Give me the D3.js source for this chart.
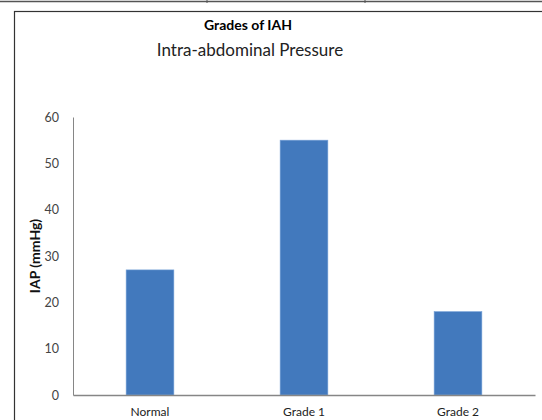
<!DOCTYPE html>
<html>
<head>
<meta charset="utf-8">
<script src="https://cdn.jsdelivr.net/npm/d3@7"></script>
<style>
  body { margin: 0; background: #fff; }
  text { font-family: Lato, "Open Sans", sans-serif; }
</style>
</head>
<body>
<div id="container"></div>
<script>
var categories = ["Normal", "Grade 1", "Grade 2"];
var values = [27, 55, 18];
var yTicks = [0, 10, 20, 30, 40, 50, 60];

var width = 542, height = 420;

var svg = d3.select("#container").append("svg")
    .attr("width", width)
    .attr("height", height);

// bits of the surrounding document table
svg.append("line").attr("x1", 0).attr("x2", width).attr("y1", 1.5).attr("y2", 1.5)
    .attr("stroke", "#555").attr("stroke-width", 1.5);
[207, 365].forEach(function(x) {
  svg.append("line").attr("x1", x).attr("x2", x).attr("y1", 0).attr("y2", 3)
      .attr("stroke", "#555");
});

// chart frame
svg.append("rect")
    .attr("x", 14.5).attr("y", 11.5)
    .attr("width", 600).attr("height", 500)
    .attr("fill", "none").attr("stroke", "#333").attr("stroke-width", 1.2);

var margin = { left: 73, right: 535, top: 117, bottom: 395 };

var x = d3.scaleBand()
    .domain(categories)
    .range([margin.left, margin.right])
    .paddingInner(0.69)
    .paddingOuter(0.345);

var y = d3.scaleLinear()
    .domain([0, 60])
    .range([margin.bottom, margin.top]);

svg.append("text")
    .attr("x", 248).attr("y", 30)
    .attr("text-anchor", "middle")
    .attr("font-size", 14).attr("font-weight", "bold")
    .attr("fill", "#000")
    .text("Grades of IAH");

svg.append("text")
    .attr("x", 250).attr("y", 56)
    .attr("text-anchor", "middle")
    .attr("font-size", 17)
    .attr("fill", "#222")
    .text("Intra-abdominal Pressure");

// bars
svg.append("g").selectAll("rect")
    .data(values)
    .enter().append("rect")
      .attr("x", function(d, i) { return x(categories[i]); })
      .attr("y", function(d) { return y(d); })
      .attr("width", x.bandwidth())
      .attr("height", function(d) { return y(0) - y(d); })
      .attr("fill", "#4279bd")
      .attr("stroke", "#7aa3d8")
      .attr("stroke-width", 0.6);

// y axis
var yAxis = svg.append("g")
    .attr("transform", "translate(" + margin.left + ",0)")
    .call(d3.axisLeft(y).tickValues(yTicks).tickSize(0).tickPadding(14));
yAxis.select(".domain").attr("stroke", "#868686");
yAxis.selectAll("text").attr("font-size", 12.5).attr("fill", "#444")
    .attr("font-family", "Lato, sans-serif");

// x axis
var xAxis = svg.append("g")
    .attr("transform", "translate(0," + margin.bottom + ")")
    .call(d3.axisBottom(x).tickSize(0).tickPadding(12));
xAxis.select(".domain").attr("stroke", "#868686").attr("stroke-width", 1.5);
xAxis.selectAll("text").attr("font-size", 12).attr("fill", "#222")
    .attr("font-family", "Lato, sans-serif");

svg.append("text")
    .attr("transform", "translate(40,256) rotate(-90)")
    .attr("text-anchor", "middle")
    .attr("font-size", 14).attr("font-weight", "bold")
    .attr("fill", "#111")
    .text("IAP (mmHg)");
</script>
</body>
</html>
